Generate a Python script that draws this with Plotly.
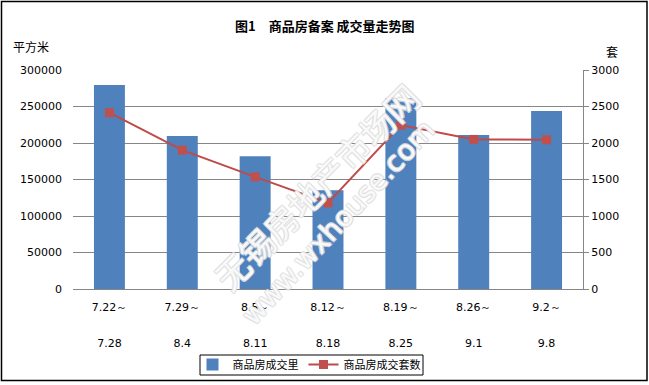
import plotly.graph_objects as go

# ---- data ----
period_start = ["7.22～", "7.29～", "8.5～", "8.12～", "8.19～", "8.26～", "9.2～"]
period_end = ["7.28", "8.4", "8.11", "8.18", "8.25", "9.1", "9.8"]
area_sqm = [279500, 209500, 182000, 135300, 261300, 210900, 243800]
units_sold = [2415, 1902, 1536, 1179, 2246, 2049, 2045]
left_ticks = [0, 50000, 100000, 150000, 200000, 250000, 300000]
right_ticks = [0, 500, 1000, 1500, 2000, 2500, 3000]

title_text = "图1　商品房备案 成交量走势图"
bar_name = "商品房成交里"
line_name = "商品房成交套数"

cats = [f"{a}|{b}" for a, b in zip(period_start, period_end)]
ticktext = [
    f"<span style='font-size:11px'>{a}</span><br><br><span style='font-size:11px'>{b}</span>"
    for a, b in zip(period_start, period_end)
]

CJK = "Noto Sans CJK SC"
NUM = "DejaVu Sans"
GRID = "#868686"

fig = go.Figure()
fig.add_trace(go.Bar(x=cats, y=area_sqm, name=bar_name, marker=dict(color="#4F81BD", line=dict(width=0)),
                     yaxis="y"))
fig.add_trace(go.Scatter(x=cats, y=units_sold, name=line_name, mode="lines+markers",
                         line=dict(color="#BE4B48", width=2),
                         marker=dict(symbol="square", size=9, color="#C0504D"),
                         yaxis="y2"))

L, R, T, B = 73, 66, 70, 96
W, H = 649, 385
pw, ph = W - L - R, H - T - B

def px2x(p):
    return (p - L) / pw

def px2y(p):
    return (H - B - p) / ph

WM_SHADOW = "-1px -1px 0 #dedede, 1px -1px 0 #dedede, -1px 1px 0 #dedede, 1px 1px 0 #dedede"

fig.update_layout(
    width=W, height=H,
    margin=dict(l=L, r=R, t=T, b=B, autoexpand=False),
    paper_bgcolor="white", plot_bgcolor="white",
    bargap=0.575,
    showlegend=True,
    legend=dict(orientation="h", x=px2x(309), y=px2y(350), xanchor="center", yanchor="top",
                borderwidth=0, bgcolor="rgba(0,0,0,0)",
                font=dict(family=CJK, size=11, color="black"),
                itemwidth=30, tracegroupgap=0, traceorder="normal"),
    xaxis=dict(type="category", tickmode="array", tickvals=cats, ticktext=ticktext,
               tickfont=dict(family=NUM, size=14, color="black"),
               showline=True, linecolor=GRID, linewidth=1, ticks="", showgrid=False,
               ticklabelstandoff=4, range=[-0.5, 6.5]),
    yaxis=dict(range=[0, 300000], tickvals=left_ticks, ticktext=[str(v) for v in left_ticks],
               showgrid=True, gridcolor=GRID, gridwidth=1, zeroline=False, showline=False,
               ticks="", ticklabelstandoff=10,
               tickfont=dict(family=NUM, size=11, color="black")),
    yaxis2=dict(range=[0, 3000], tickvals=right_ticks, ticktext=[str(v) for v in right_ticks],
                overlaying="y", side="right", showgrid=False, zeroline=False,
                showline=True, linecolor=GRID, linewidth=1, ticks="outside", ticklen=5, tickcolor=GRID,
                tickfont=dict(family=NUM, size=11, color="black")),
    annotations=[
        dict(text=f"<b>{title_text}</b>", x=px2x(325), y=px2y(25), xref="paper", yref="paper",
             showarrow=False, xanchor="center", yanchor="middle",
             font=dict(family=CJK, size=13, color="black")),
        dict(text="平方米", x=px2x(11), y=px2y(47), xref="paper", yref="paper",
             showarrow=False, xanchor="left", yanchor="middle",
             font=dict(family=CJK, size=12, color="black")),
        dict(text="套", x=px2x(612), y=px2y(52), xref="paper", yref="paper",
             showarrow=False, xanchor="center", yanchor="middle",
             font=dict(family=CJK, size=12, color="black")),
        dict(text="无锡房地产市场网", x=px2x(316), y=px2y(186), xref="paper", yref="paper",
             showarrow=False, textangle=-45, xanchor="center", yanchor="middle",
             font=dict(family=CJK, size=34, color="rgba(255,255,255,0.85)", shadow=WM_SHADOW)),
        dict(text="www.wxhouse.com", x=px2x(338), y=px2y(222), xref="paper", yref="paper",
             showarrow=False, textangle=-47, xanchor="center", yanchor="middle",
             font=dict(family="DejaVu Sans", size=28, color="rgba(255,255,255,0.85)", shadow=WM_SHADOW)),
    ],
    shapes=[
        dict(type="rect", xref="paper", yref="paper",
             x0=px2x(1.5), x1=px2x(647), y0=px2y(380.5), y1=px2y(1.5),
             line=dict(color="black", width=1.5), fillcolor="rgba(0,0,0,0)", layer="below"),
        dict(type="rect", xref="paper", yref="paper",
             x0=px2x(200), x1=px2x(423), y0=px2y(375), y1=px2y(355),
             line=dict(color="black", width=1), fillcolor="white", layer="below"),
    ],
)

fig.write_html("out.html", config={"displayModeBar": False},
               post_script="document.body.style.margin='0';")
